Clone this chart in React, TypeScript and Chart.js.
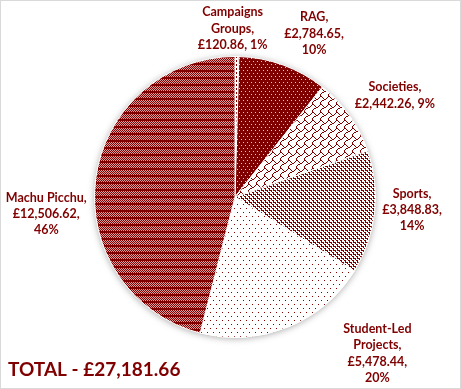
import React, { useEffect, useRef } from 'react';
import { Chart, registerables } from 'chart.js';

Chart.register(...registerables);

const categories = ['Campaigns Groups', 'RAG', 'Societies', 'Sports', 'Student-Led Projects', 'Machu Picchu'];
const amounts = [120.86, 2784.65, 2442.26, 3848.83, 5478.44, 12506.62];
const totalPrefix = 'TOTAL - ';

const DARK = '#800000';
const FONT = 'Lato, "Open Sans", sans-serif';

function percents(vals: number[]): number[] {
  const total = vals.reduce((a, b) => a + b, 0);
  const raw = vals.map((v) => (v / total) * 100);
  const fl = raw.map((r) => Math.floor(r));
  const rest = 100 - fl.reduce((a, b) => a + b, 0);
  const order = raw.map((r, i) => [r - Math.floor(r), i]).sort((a, b) => b[0] - a[0]);
  for (let k = 0; k < rest; k++) fl[order[k][1]] += 1;
  return fl;
}

const money = (v: number) =>
  '£' + v.toLocaleString('en-GB', { minimumFractionDigits: 2, maximumFractionDigits: 2 });

function makeTile(rows: string[], fg: string, bg: string): HTMLCanvasElement {
  const h = rows.length;
  const w = rows[0].length;
  const c = document.createElement('canvas');
  c.width = w;
  c.height = h;
  const g = c.getContext('2d')!;
  g.fillStyle = bg;
  g.fillRect(0, 0, w, h);
  g.fillStyle = fg;
  for (let y = 0; y < h; y++) for (let x = 0; x < w; x++) if (rows[y][x] === '1') g.fillRect(x, y, 1, 1);
  return c;
}

function wrap(ctx: CanvasRenderingContext2D, text: string, maxW: number): string[] {
  const words = text.split(' ');
  const lines: string[] = [];
  let cur = '';
  for (const w of words) {
    const t = cur ? cur + ' ' + w : w;
    if (cur && ctx.measureText(t).width > maxW) {
      lines.push(cur);
      cur = w;
    } else cur = t;
  }
  if (cur) lines.push(cur);
  return lines;
}

const shadowPlugin = {
  id: 'pieShadow',
  beforeDatasetsDraw(chart: any) {
    const arc = chart.getDatasetMeta(0).data[0];
    if (!arc) return;
    const { x, y, outerRadius } = arc.getProps(['x', 'y', 'outerRadius'], true);
    const ctx = chart.ctx;
    ctx.save();
    ctx.shadowColor = 'rgba(0,0,0,0.35)';
    ctx.shadowBlur = 7;
    ctx.shadowOffsetY = 1;
    ctx.beginPath();
    ctx.arc(x, y, outerRadius, 0, Math.PI * 2);
    ctx.fillStyle = '#fff';
    ctx.fill();
    ctx.restore();
  },
};

const labelPlugin = {
  id: 'sliceLabels',
  afterDraw(chart: any, _args: any, opts: any) {
    const ctx = chart.ctx as CanvasRenderingContext2D;
    const meta = chart.getDatasetMeta(0);
    const pcts = percents(amounts);
    ctx.save();
    ctx.font = `bold ${opts.size}px ${FONT}`;
    ctx.fillStyle = DARK;
    ctx.textAlign = 'center';
    ctx.textBaseline = 'middle';
    meta.data.forEach((arc: any, i: number) => {
      const { x, y, startAngle, endAngle, outerRadius } = arc.getProps(
        ['x', 'y', 'startAngle', 'endAngle', 'outerRadius'],
        true
      );
      const mid = (startAngle + endAngle) / 2 + (opts.angleShift[i] * Math.PI) / 180;
      const d = outerRadius + opts.gap[i];
      const cx = x + Math.cos(mid) * d;
      const cy = y + Math.sin(mid) * d;
      const text = `${categories[i]}, ${money(amounts[i])}, ${pcts[i]}%`;
      const lines = wrap(ctx, text, opts.wrapWidth[i]);
      const top = cy - ((lines.length - 1) * opts.lineHeight) / 2;
      lines.forEach((l, k) => ctx.fillText(l, cx, top + k * opts.lineHeight));
    });
    const total = amounts.reduce((a, b) => a + b, 0);
    ctx.textAlign = 'left';
    ctx.textBaseline = 'alphabetic';
    ctx.font = `bold 19px ${FONT}`;
    ctx.fillText(totalPrefix + money(total), 8, 376);
    ctx.strokeStyle = '#d9d9d9';
    ctx.lineWidth = 1;
    ctx.strokeRect(0.5, 0.5, chart.width - 1, chart.height - 1);
    ctx.restore();
  },
};

export default function App() {
  const ref = useRef<HTMLCanvasElement>(null);
  useEffect(() => {
    document.body.style.margin = '0';
    const canvas = ref.current!;
    const g = canvas.getContext('2d')!;
    const pat = (rows: string[], fg: string, bg: string) => g.createPattern(makeTile(rows, fg, bg), 'repeat')!;
    const fills = [
      pat(['1000', '1000', '0010', '0010'], DARK, '#ffffff'),
      pat(['00000000', '01000100', '00000000', '00000000', '00010001', '00000000'], '#f2c8c8', DARK),
      pat(['11000000', '00100001', '00010010', '00001100', '00110000', '01000000', '10000000', '10000000'], DARK, '#ffffff'),
      pat(['1100', '0100', '0111', '0001'], DARK, '#ffffff'),
      pat(['100000', '000000', '000000', '000000', '000100', '000000', '000000', '000000'], DARK, '#ffffff'),
      pat(['11', '11', '10', '01', '10', '01', '10'], DARK, '#d8a0a0'),
    ];
    const chart = new Chart(canvas, {
      type: 'pie',
      data: {
        labels: categories,
        datasets: [
          {
            data: amounts,
            backgroundColor: fills as any,
            borderColor: '#ffffff',
            borderWidth: 1,
          },
        ],
      },
      options: {
        responsive: false,
        animation: false,
        layout: { padding: { left: 94, right: 85, top: 56, bottom: 51 } },
        plugins: {
          legend: { display: false },
          tooltip: { enabled: false },
          sliceLabels: {
            size: 12.5,
            lineHeight: 16.4,
            gap: [28, 41, 49, 37, 71, 49],
            angleShift: [-1.6, 5.8, 2.9, -2.1, -20.4, -12.3],
            wrapWidth: [76, 62, 84, 64, 72, 84],
          },
        } as any,
      },
      plugins: [shadowPlugin, labelPlugin],
    });
    return () => chart.destroy();
  }, []);
  return (
    <div style={{ position: 'absolute', left: 0, top: 0, width: 461, height: 389, background: '#fff' }}>
      <canvas ref={ref} width={461} height={389} style={{ display: 'block' }} />
    </div>
  );
}
